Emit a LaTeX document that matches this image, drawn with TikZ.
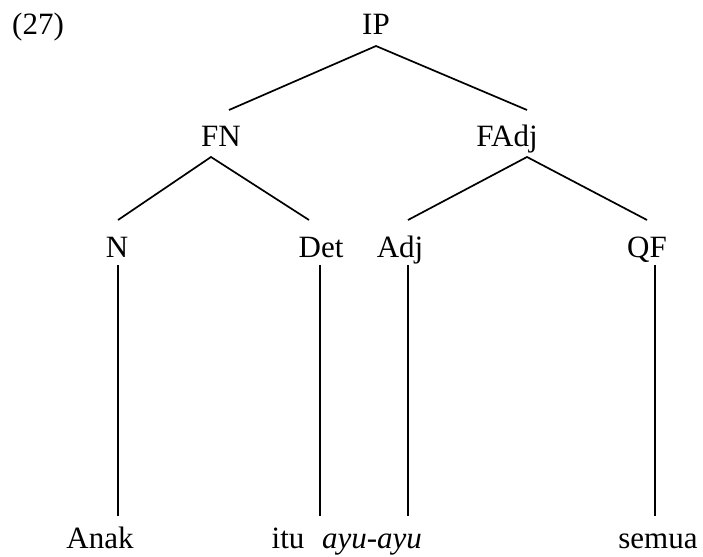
\documentclass[tikz,border=0pt]{standalone}
\usepackage{fontspec}
\setmainfont{Liberation Serif}
\begin{document}
\begin{tikzpicture}[x=1pt,y=-1pt,
  lbl/.style={anchor=base,inner sep=0pt,font=\fontsize{31}{36}\selectfont},
  br/.style={line width=1.7pt}]
\useasboundingbox (0,0) rectangle (703,556);
% labels
\node[lbl,anchor=base west] (ex) at (12,35) {(27)};
\node[lbl] (IP) at (376,35) {IP};
\node[lbl] (FN) at (221,147) {FN};
\node[lbl] (FAdj) at (507,147) {FAdj};
\node[lbl] (N) at (117,257) {N};
\node[lbl] (Det) at (321,257) {Det};
\node[lbl] (Adj) at (400,257) {Adj};
\node[lbl] (QF) at (647,257) {QF};
\node[lbl] (anak) at (100,548) {Anak};
\node[lbl] (itu) at (288,548) {itu};
\node[lbl] (ayu) at (372,548) {\itshape ayu-ayu};
\node[lbl] (semua) at (658,548) {semua};
% connector end points
\coordinate (IPb) at (376,46);
\coordinate (FNt) at (229,110);
\coordinate (FAdjt) at (527,110);
\coordinate (FNb) at (211,157);
\coordinate (FAdjb) at (527,157);
\coordinate (Nt) at (118,220);
\coordinate (Dett) at (309,220);
\coordinate (Adjt) at (408,220);
\coordinate (QFt) at (647,220);
\coordinate (Nb) at (118,265);
\coordinate (Detb) at (320,265);
\coordinate (Adjb) at (408,265);
\coordinate (QFb) at (655,265);
\coordinate (anakt) at (118,516);
\coordinate (itut) at (320,516);
\coordinate (ayut) at (408,516);
\coordinate (semuat) at (655,516);
% branches
\draw[br] (FNt) -- (IPb) -- (FAdjt);
\draw[br] (Nt) -- (FNb) -- (Dett);
\draw[br] (Adjt) -- (FAdjb) -- (QFt);
\draw[br] (Nb) -- (anakt);
\draw[br] (Detb) -- (itut);
\draw[br] (Adjb) -- (ayut);
\draw[br] (QFb) -- (semuat);
\end{tikzpicture}
\end{document}
